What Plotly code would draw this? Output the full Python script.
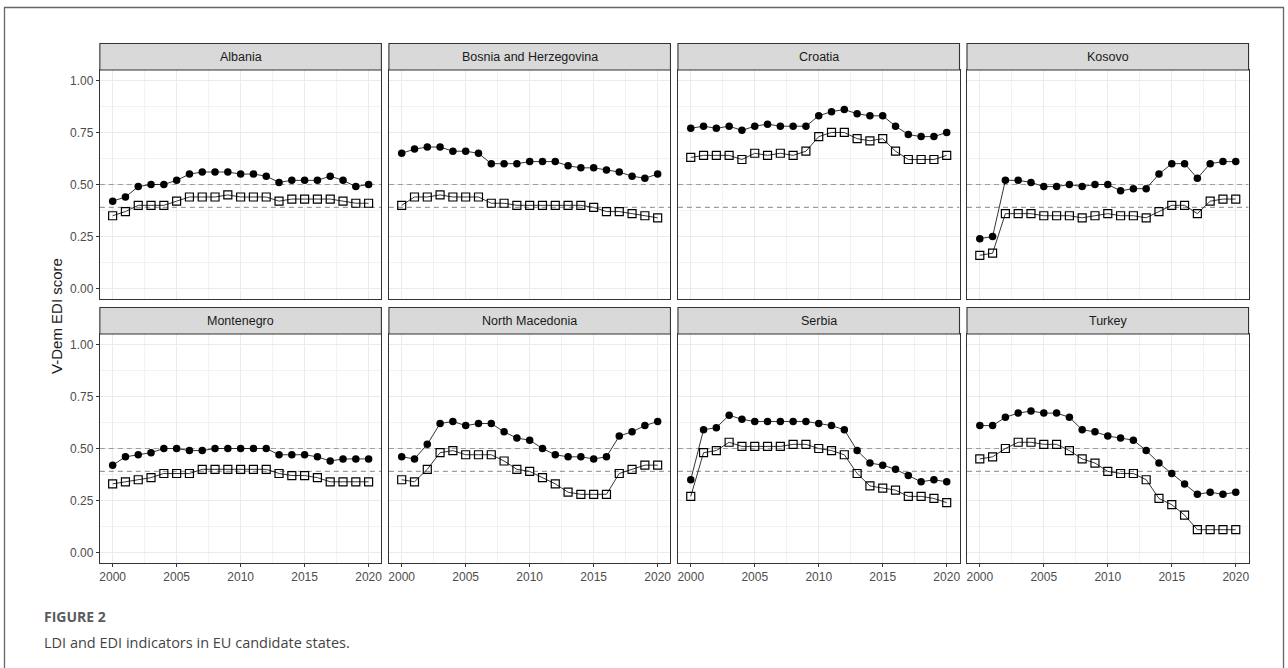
import plotly.graph_objects as go

# ---- data -------------------------------------------------------------
years = list(range(2000, 2021))

countries = ["Albania", "Bosnia and Herzegovina", "Croatia", "Kosovo",
             "Montenegro", "North Macedonia", "Serbia", "Turkey"]

# electoral democracy index (filled circles)
albania_edi = [0.42, 0.44, 0.49, 0.50, 0.50, 0.52, 0.55, 0.56, 0.56, 0.56, 0.55,
               0.55, 0.54, 0.51, 0.52, 0.52, 0.52, 0.54, 0.52, 0.49, 0.50]
bosnia_edi = [0.65, 0.67, 0.68, 0.68, 0.66, 0.66, 0.65, 0.60, 0.60, 0.60, 0.61,
              0.61, 0.61, 0.59, 0.58, 0.58, 0.57, 0.56, 0.54, 0.53, 0.55]
croatia_edi = [0.77, 0.78, 0.77, 0.78, 0.76, 0.78, 0.79, 0.78, 0.78, 0.78, 0.83,
               0.85, 0.86, 0.84, 0.83, 0.83, 0.78, 0.74, 0.73, 0.73, 0.75]
kosovo_edi = [0.24, 0.25, 0.52, 0.52, 0.51, 0.49, 0.49, 0.50, 0.49, 0.50, 0.50,
              0.47, 0.48, 0.48, 0.55, 0.60, 0.60, 0.53, 0.60, 0.61, 0.61]
montenegro_edi = [0.42, 0.46, 0.47, 0.48, 0.50, 0.50, 0.49, 0.49, 0.50, 0.50, 0.50,
                  0.50, 0.50, 0.47, 0.47, 0.47, 0.46, 0.44, 0.45, 0.45, 0.45]
macedonia_edi = [0.46, 0.45, 0.52, 0.62, 0.63, 0.61, 0.62, 0.62, 0.58, 0.55, 0.54,
                 0.50, 0.47, 0.46, 0.46, 0.45, 0.46, 0.56, 0.58, 0.61, 0.63]
serbia_edi = [0.35, 0.59, 0.60, 0.66, 0.64, 0.63, 0.63, 0.63, 0.63, 0.63, 0.62,
              0.61, 0.59, 0.49, 0.43, 0.42, 0.40, 0.37, 0.34, 0.35, 0.34]
turkey_edi = [0.61, 0.61, 0.65, 0.67, 0.68, 0.67, 0.67, 0.65, 0.59, 0.58, 0.56,
              0.55, 0.54, 0.49, 0.43, 0.38, 0.33, 0.28, 0.29, 0.28, 0.29]

# liberal democracy index (open squares)
albania_ldi = [0.35, 0.37, 0.40, 0.40, 0.40, 0.42, 0.44, 0.44, 0.44, 0.45, 0.44,
               0.44, 0.44, 0.42, 0.43, 0.43, 0.43, 0.43, 0.42, 0.41, 0.41]
bosnia_ldi = [0.40, 0.44, 0.44, 0.45, 0.44, 0.44, 0.44, 0.41, 0.41, 0.40, 0.40,
              0.40, 0.40, 0.40, 0.40, 0.39, 0.37, 0.37, 0.36, 0.35, 0.34]
croatia_ldi = [0.63, 0.64, 0.64, 0.64, 0.62, 0.65, 0.64, 0.65, 0.64, 0.66, 0.73,
               0.75, 0.75, 0.72, 0.71, 0.72, 0.66, 0.62, 0.62, 0.62, 0.64]
kosovo_ldi = [0.16, 0.17, 0.36, 0.36, 0.36, 0.35, 0.35, 0.35, 0.34, 0.35, 0.36,
              0.35, 0.35, 0.34, 0.37, 0.40, 0.40, 0.36, 0.42, 0.43, 0.43]
montenegro_ldi = [0.33, 0.34, 0.35, 0.36, 0.38, 0.38, 0.38, 0.40, 0.40, 0.40, 0.40,
                  0.40, 0.40, 0.38, 0.37, 0.37, 0.36, 0.34, 0.34, 0.34, 0.34]
macedonia_ldi = [0.35, 0.34, 0.40, 0.48, 0.49, 0.47, 0.47, 0.47, 0.44, 0.40, 0.39,
                 0.36, 0.33, 0.29, 0.28, 0.28, 0.28, 0.38, 0.40, 0.42, 0.42]
serbia_ldi = [0.27, 0.48, 0.49, 0.53, 0.51, 0.51, 0.51, 0.51, 0.52, 0.52, 0.50,
              0.49, 0.47, 0.38, 0.32, 0.31, 0.30, 0.27, 0.27, 0.26, 0.24]
turkey_ldi = [0.45, 0.46, 0.50, 0.53, 0.53, 0.52, 0.52, 0.49, 0.45, 0.43, 0.39,
              0.38, 0.38, 0.35, 0.26, 0.23, 0.18, 0.11, 0.11, 0.11, 0.11]

# dashed reference thresholds
thresholds = [0.50, 0.39]

x_ticks = [2000, 2005, 2010, 2015, 2020]
y_ticks = [0.00, 0.25, 0.50, 0.75, 1.00]
y_ticktext = ["0.00", "0.25", "0.50", "0.75", "1.00"]

edi_series = [albania_edi, bosnia_edi, croatia_edi, kosovo_edi,
              montenegro_edi, macedonia_edi, serbia_edi, turkey_edi]
ldi_series = [albania_ldi, bosnia_ldi, croatia_ldi, kosovo_ldi,
              montenegro_ldi, macedonia_ldi, serbia_ldi, turkey_ldi]

# ---- layout geometry (pixels) ------------------------------------------
W, H = 1288, 668
PANEL_W = 282
COL_LEFT = [99, 388.5, 678, 967.5]
ROW_TOP = [70, 334]          # top of plotting area
PANEL_H = 229
STRIP_H = 26.5
X_RANGE = [1999, 2021]


def fx(x):
    return x / W


def fy(y):
    return 1 - y / H


fig = go.Figure()
shapes = []
annotations = []

axis_line = "#333333"
grid_major = "#EBEBEB"
grid_minor = "#F2F2F2"
tick_font = dict(family="Liberation Sans, Arial, sans-serif", size=12, color="#4D4D4D")

for i, country in enumerate(countries):
    row, col = divmod(i, 4)
    left = COL_LEFT[col]
    top = ROW_TOP[row]
    n = "" if i == 0 else str(i + 1)
    xref, yref = "x" + n, "y" + n

    # dashed threshold lines spanning the full panel width
    for t in thresholds:
        fig.add_trace(go.Scatter(
            x=X_RANGE, y=[t, t], mode="lines", xaxis=xref, yaxis=yref,
            line=dict(color="#9E9E9E", width=1.2, dash="5px,4px"),
            hoverinfo="skip", showlegend=False))

    fig.add_trace(go.Scatter(
        x=years, y=ldi_series[i], mode="lines+markers", xaxis=xref, yaxis=yref,
        line=dict(color="black", width=0.8),
        marker=dict(symbol="square-open", size=8, color="black", line=dict(width=1.2, color="black")),
        showlegend=False, name="LDI"))
    fig.add_trace(go.Scatter(
        x=years, y=edi_series[i], mode="lines+markers", xaxis=xref, yaxis=yref,
        line=dict(color="black", width=0.8),
        marker=dict(symbol="circle", size=7.5, color="black", line=dict(width=0)),
        showlegend=False, name="EDI"))

    bottom_row = row == 1
    first_col = col == 0

    fig.layout["xaxis" + n] = dict(
        domain=[fx(left), fx(left + PANEL_W)], anchor=yref,
        range=X_RANGE, tickvals=x_ticks,
        showticklabels=bottom_row, ticks="outside" if bottom_row else "",
        ticklen=3, tickwidth=1, tickcolor=axis_line, tickfont=tick_font,
        showgrid=True, gridcolor=grid_major, gridwidth=1.1,
        minor=dict(tickvals=[2002.5, 2007.5, 2012.5, 2017.5], showgrid=True,
                   gridcolor=grid_minor, gridwidth=0.7, ticks=""),
        showline=True, mirror=True, linecolor=axis_line, linewidth=1.1,
        zeroline=False, fixedrange=True)
    fig.layout["yaxis" + n] = dict(
        domain=[fy(top + PANEL_H), fy(top)], anchor=xref,
        range=[-0.05, 1.05], tickvals=y_ticks, ticktext=y_ticktext,
        showticklabels=first_col, ticks="outside" if first_col else "",
        ticklen=3, tickwidth=1, tickcolor=axis_line, tickfont=tick_font,
        showgrid=True, gridcolor=grid_major, gridwidth=1.1,
        minor=dict(tickvals=[0.125, 0.375, 0.625, 0.875], showgrid=True,
                   gridcolor=grid_minor, gridwidth=0.7, ticks=""),
        showline=True, mirror=True, linecolor=axis_line, linewidth=1.1,
        zeroline=False, fixedrange=True)

    # facet strip
    shapes.append(dict(type="rect", xref="paper", yref="paper",
                       x0=fx(left), x1=fx(left + PANEL_W),
                       y0=fy(top), y1=fy(top - STRIP_H),
                       fillcolor="#D9D9D9", line=dict(color=axis_line, width=1.1),
                       layer="above"))
    annotations.append(dict(text=country, xref="paper", yref="paper",
                            x=fx(left + PANEL_W / 2), y=fy(top - STRIP_H / 2),
                            showarrow=False, xanchor="center", yanchor="middle",
                            font=dict(family="Liberation Sans, Arial, sans-serif",
                                      size=12.5, color="#1A1A1A")))

# axis title
annotations.append(dict(text="V-Dem EDI score", xref="paper", yref="paper",
                        x=fx(55), y=fy(316), textangle=-90, showarrow=False,
                        xanchor="center", yanchor="middle",
                        font=dict(family="Liberation Sans, Arial, sans-serif",
                                  size=15, color="#1A1A1A")))

# caption
annotations.append(dict(text="<b>FIGURE 2</b>", xref="paper", yref="paper",
                        x=fx(41), y=fy(616), showarrow=False,
                        xanchor="left", yanchor="middle",
                        font=dict(family="Open Sans, sans-serif", size=14, color="#5A5A5A")))
annotations.append(dict(text="LDI and EDI indicators in EU candidate states.",
                        xref="paper", yref="paper", x=fx(41), y=fy(642),
                        showarrow=False, xanchor="left", yanchor="middle",
                        font=dict(family="Open Sans, sans-serif", size=14.5, color="#444444")))

# outer frame around the figure
shapes.append(dict(type="rect", xref="paper", yref="paper",
                   x0=fx(3.5), x1=fx(1284.5), y0=fy(700), y1=fy(7.5),
                   line=dict(color="#666666", width=1.3), fillcolor="rgba(0,0,0,0)",
                   layer="above"))

fig.update_layout(
    width=W, height=H,
    margin=dict(l=0, r=0, t=0, b=0),
    paper_bgcolor="white", plot_bgcolor="white",
    shapes=shapes, annotations=annotations,
    showlegend=False,
)

fig.write_html("out.html")
